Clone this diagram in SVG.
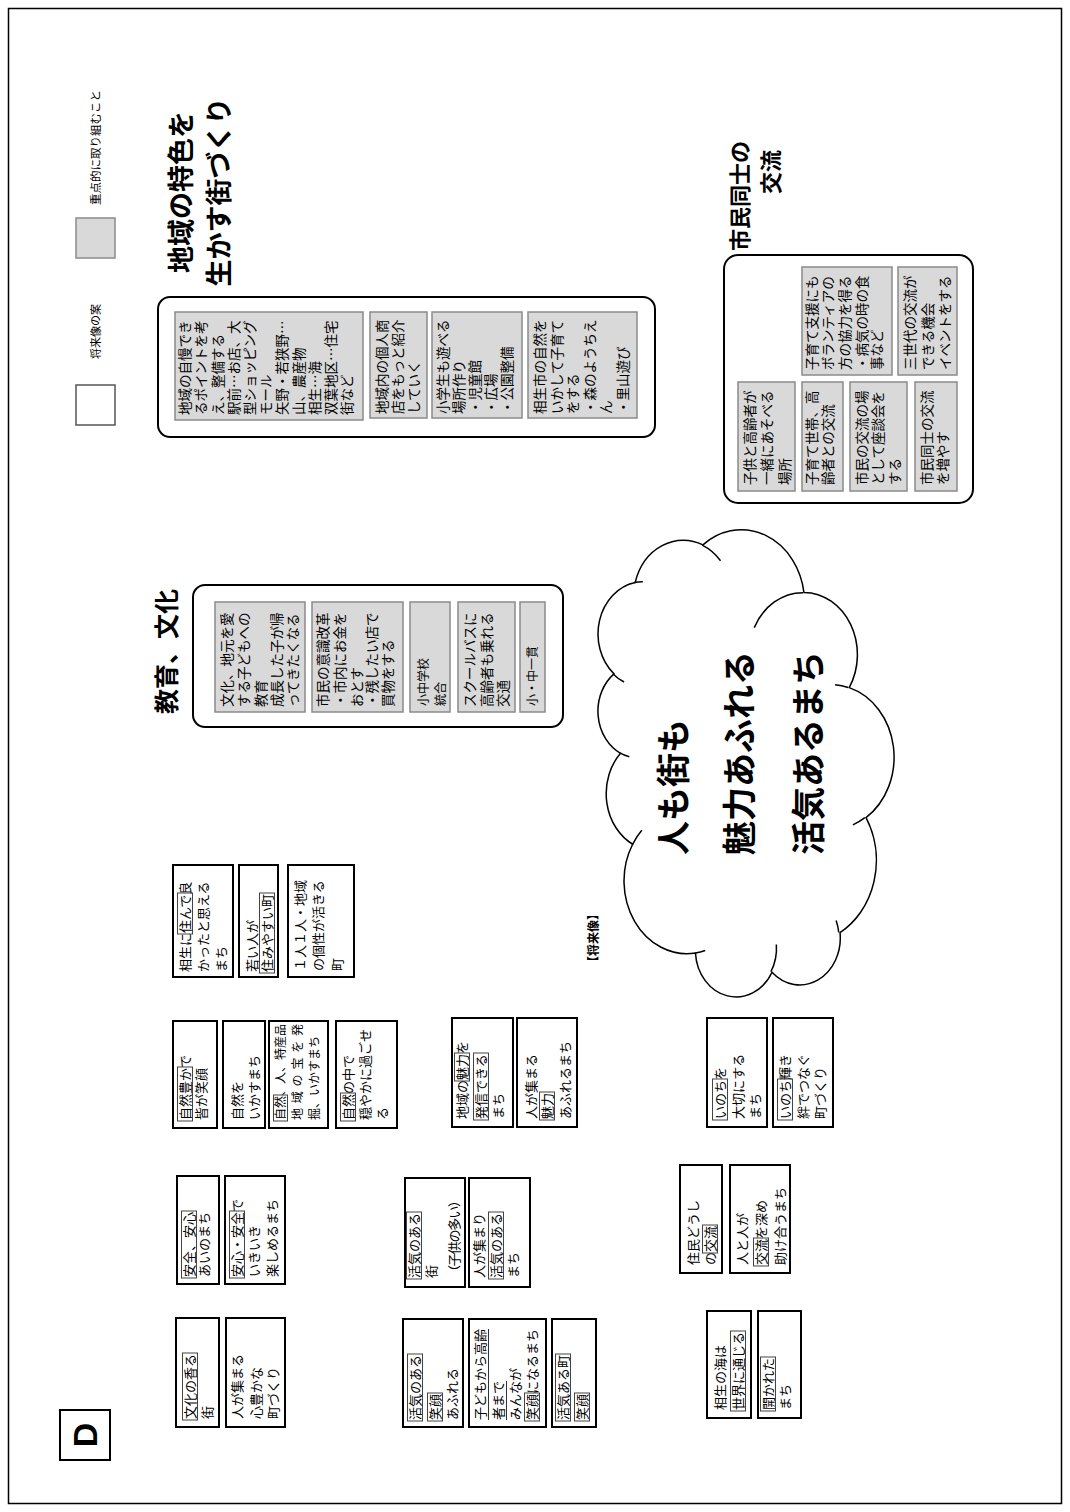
<svg xmlns="http://www.w3.org/2000/svg" width="1070" height="1512" viewBox="0 0 1070 1512">
<style>
.wb{fill:#fff;stroke:#000;stroke-width:2}
.gb{fill:#d9d9d9;stroke:#8a8a8a;stroke-width:1.5}
.grp{fill:#fff;stroke:#000;stroke-width:2}
.t{font-family:"Noto Sans CJK JP","Noto Sans CJK SC",sans-serif;font-size:13px;fill:#000}
.g{font-size:13.5px}
.s12{font-size:12px}
.fr{fill:none;stroke:#444;stroke-width:1}
.ul{stroke:#333;stroke-width:1}
.h{font-family:"Noto Sans CJK JP","Noto Sans CJK SC",sans-serif;font-weight:bold;fill:#000}
.cl{fill:none;stroke:#000;stroke-width:1.5}
</style>
<rect x="0" y="0" width="1070" height="1512" fill="#fff"/>
<rect x="8.5" y="8.5" width="1053" height="1495" fill="none" stroke="#000" stroke-width="1.5"/>
<g transform="translate(0,1512) rotate(-90)">
  <!-- D label -->
  <g id="label-d">
    <rect x="52" y="60" width="50" height="50" fill="#fff" stroke="#000" stroke-width="2"/>
    <text x="77" y="97" text-anchor="middle" style="font-family:'Liberation Sans',Arial,sans-serif;font-weight:bold;font-size:34px">D</text>
  </g>
  <!-- legend -->
  <g id="legend">
    <rect x="1254" y="76" width="40" height="39" class="gb"/>
    <text x="1307" y="100" class="t" style="font-size:11.5px">重点的に取り組むこと</text>
    <rect x="1087" y="76" width="40" height="39" fill="#fff" stroke="#555" stroke-width="1.5"/>
    <text x="1153" y="100" class="t" style="font-size:11px">将来像の案</text>
  </g>

  <!-- White proposal boxes -->
  <g id="box-a"><rect class="wb" x="535" y="173" width="112" height="60"/>
    <text class="t" x="540" y="190">相生に住んで良</text><text class="t" x="540" y="208">かったと思える</text><text class="t" x="540" y="226">まち</text>
    <rect class="fr" x="578" y="177.5" width="41" height="15"/></g>
  <g id="box-b"><rect class="wb" x="535" y="239" width="112" height="39"/>
    <text class="t" x="540" y="257">若い人が</text><text class="t" x="540" y="272">住みやすい町</text>
    <rect class="fr" x="539" y="259.5" width="80" height="15"/></g>
  <g id="box-c"><rect class="wb" x="535" y="288" width="112" height="66"/>
    <text class="t" x="541" y="305">１人１人・地域</text><text class="t" x="541" y="323">の個性が活きる</text><text class="t" x="541" y="342">町</text></g>

  <g id="box-d"><rect class="wb" x="384" y="173" width="107" height="44"/>
    <text class="t" x="392" y="190">自然豊かで</text><text class="t" x="392" y="206">皆が笑顔</text>
    <rect class="fr" x="391" y="177.5" width="54" height="15"/></g>
  <g id="box-e"><rect class="wb" x="384" y="223" width="107" height="42"/>
    <text class="t" x="392" y="242">自然を</text><text class="t" x="392" y="259">いかすまち</text></g>
  <g id="box-f"><rect class="wb" x="384" y="269" width="107" height="59"/>
    <text class="t s12" x="392" y="285">自然、人、特産品</text><text class="t s12" x="392" y="301.5" textLength="96" lengthAdjust="spacing">地域の宝を発</text><text class="t s12" x="392" y="319">掘、いかすまち</text>
    <rect class="fr" x="391" y="273.5" width="26" height="14"/></g>
  <g id="box-g"><rect class="wb" x="384" y="336" width="107" height="61"/>
    <text class="t" x="392" y="353">自然の中で</text><text class="t" x="392" y="370">穏やかに過ごせ</text><text class="t" x="392" y="387">る</text>
    <rect class="fr" x="391" y="340.5" width="28" height="15"/></g>

  <g id="box-h"><rect class="wb" x="228" y="177" width="108" height="42"/>
    <text class="t" x="235" y="194">安全、安心</text><text class="t" x="235" y="209">あいのまち</text>
    <rect class="fr" x="234" y="181.5" width="67" height="15"/></g>
  <g id="box-i"><rect class="wb" x="228" y="225" width="108" height="60"/>
    <text class="t" x="235" y="242">安心・安全で</text><text class="t" x="235" y="259">いきいき</text><text class="t" x="235" y="277">楽しめるまち</text>
    <rect class="fr" x="234" y="229.5" width="67" height="15"/></g>

  <g id="box-j"><rect class="wb" x="85" y="176" width="109" height="43"/>
    <text class="t" x="93" y="195">文化の香る</text><text class="t" x="93" y="212">街</text>
    <rect class="fr" x="92" y="182.5" width="67" height="15"/></g>
  <g id="box-k"><rect class="wb" x="85" y="226" width="109" height="59"/>
    <text class="t" x="93" y="242">人が集まる</text><text class="t" x="93" y="261">心豊かな</text><text class="t" x="93" y="278">町づくり</text></g>

  <g id="box-l"><rect class="wb" x="385" y="452" width="109" height="61"/>
    <text class="t" x="393" y="467">地域の魅力を</text><text class="t" x="393" y="486">発信できる</text><text class="t" x="393" y="503">まち</text>
    <rect class="fr" x="431" y="454.5" width="28" height="15"/><rect class="fr" x="392" y="473.5" width="67" height="15"/></g>
  <g id="box-m"><rect class="wb" x="385" y="517" width="109" height="60"/>
    <text class="t" x="393" y="536">人が集まる</text><text class="t" x="393" y="552">魅力</text><text class="t" x="393" y="570">あふれるまち</text>
    <rect class="fr" x="392" y="539.5" width="28" height="15"/></g>

  <g id="box-n"><rect class="wb" x="225" y="405" width="109" height="60"/>
    <text class="t" x="234" y="419">活気のある</text><text class="t" x="234" y="436">街</text><text class="t" x="234" y="459" textLength="84" lengthAdjust="spacing">（子供の多い）</text>
    <rect class="fr" x="233" y="406.5" width="67" height="15"/></g>
  <g id="box-o"><rect class="wb" x="225" y="469" width="109" height="61"/>
    <text class="t" x="234" y="484">人が集まり</text><text class="t" x="234" y="501">活気のある</text><text class="t" x="234" y="518">まち</text>
    <rect class="fr" x="233" y="488.5" width="67" height="15"/></g>

  <g id="box-p"><rect class="wb" x="85" y="403" width="108" height="60"/>
    <text class="t" x="92" y="420">活気のある</text><text class="t" x="92" y="440">笑顔</text><text class="t" x="92" y="457">あふれる</text>
    <rect class="fr" x="91" y="407.5" width="67" height="15"/><rect class="fr" x="91" y="427.5" width="28" height="15"/></g>
  <g id="box-q"><rect class="wb" x="85" y="469" width="108" height="77"/>
    <text class="t" x="92" y="485">子どもから高齢</text><text class="t" x="92" y="503">者まで</text><text class="t" x="92" y="520">みんなが</text><text class="t" x="92" y="537">笑顔になるまち</text>
    <line class="ul" x1="92" y1="488.5" x2="183" y2="488.5"/><line class="ul" x1="92" y1="506.5" x2="131" y2="506.5"/>
    <rect class="fr" x="91" y="524.5" width="28" height="15"/></g>
  <g id="box-r"><rect class="wb" x="85" y="552" width="108" height="44"/>
    <text class="t" x="92" y="568">活気ある町</text><text class="t" x="92" y="587">笑顔</text>
    <rect class="fr" x="91" y="555.5" width="67" height="15"/><rect class="fr" x="91" y="574.5" width="28" height="15"/></g>

  <g id="box-s"><rect class="wb" x="385" y="707" width="109" height="60"/>
    <text class="t" x="393" y="725">いのちを</text><text class="t" x="393" y="743">大切にする</text><text class="t" x="393" y="760">まち</text>
    <rect class="fr" x="392" y="712.5" width="41" height="15"/></g>
  <g id="box-t"><rect class="wb" x="385" y="773" width="109" height="60"/>
    <text class="t" x="393" y="790">いのち輝き</text><text class="t" x="393" y="808">絆でつなぐ</text><text class="t" x="393" y="825">町づくり</text>
    <rect class="fr" x="392" y="777.5" width="41" height="15"/></g>
  <g id="box-u"><rect class="wb" x="239" y="680" width="108" height="42"/>
    <text class="t" x="247" y="698">住民どうし</text><text class="t" x="247" y="715">の交流</text>
    <rect class="fr" x="259" y="702.5" width="28" height="15"/></g>
  <g id="box-v"><rect class="wb" x="239" y="730" width="108" height="60"/>
    <text class="t" x="247" y="747">人と人が</text><text class="t" x="247" y="766">交流を深め</text><text class="t" x="247" y="785">助け合うまち</text>
    <rect class="fr" x="246" y="753.5" width="28" height="15"/></g>
  <g id="box-w"><rect class="wb" x="94" y="707" width="107" height="44"/>
    <text class="t" x="102" y="725">相生の海は</text><text class="t" x="102" y="743">世界に通じる</text>
    <rect class="fr" x="101" y="730.5" width="80" height="15"/></g>
  <g id="box-x"><rect class="wb" x="94" y="758" width="107" height="43"/>
    <text class="t" x="102" y="773">開かれた</text><text class="t" x="102" y="790">まち</text>
    <rect class="fr" x="101" y="760.5" width="54" height="15"/></g>

  <!-- Future vision cloud -->
  <g id="cloud">
    <path d="M 558.98 695.46 A 72.69 62.97 0 0 1 667.75 632.64 A 57.40 49.79 0 0 1 758.72 620.50 A 46.98 40.73 0 0 1 838.14 613.98 A 52.28 45.19 0 0 1 929.47 635.20 A 57.40 49.83 0 0 1 967.15 702.92 A 72.93 63.17 0 0 1 919.62 803.93 A 62.27 53.90 0 0 1 824.38 849.22 A 72.68 63.14 0 0 1 694.40 866.03 A 83.10 72.24 0 0 1 579.47 840.02 A 46.93 40.55 0 0 1 539.75 772.02 A 46.77 40.73 0 0 1 558.98 695.46 Z" fill="#fff" stroke="#000" stroke-width="1.5"/>
    <path class="cl" d="M 567.52 776.36 A 46.77 40.73 0 0 1 540.24 770.90"/>
    <path class="cl" d="M 591.57 836.12 A 46.93 40.55 0 0 1 579.64 838.74"/>
    <path class="cl" d="M 694.37 864.84 A 72.68 63.14 0 0 1 687.17 852.91"/>
    <path class="cl" d="M 827.29 835.11 A 72.68 63.14 0 0 1 824.42 848.19"/>
    <path class="cl" d="M 884.37 754.28 A 62.27 53.90 0 0 1 919.37 803.17"/>
    <path class="cl" d="M 966.91 702.20 A 57.40 49.83 0 0 1 951.31 720.55"/>
    <path class="cl" d="M 929.52 634.18 A 52.28 45.19 0 0 1 930.34 642.84"/>
    <path class="cl" d="M 830.00 624.08 A 52.28 45.19 0 0 1 837.99 613.03"/>
    <path class="cl" d="M 755.33 629.34 A 46.98 40.73 0 0 1 759.19 619.83"/>
    <path class="cl" d="M 667.70 632.58 A 72.69 62.97 0 0 1 681.70 641.82"/>
    <path class="cl" d="M 561.42 705.18 A 72.69 62.97 0 0 1 558.98 695.46"/>
    <text class="h" x="657" y="686" style="font-size:34px">人も街も</text>
    <text class="h" x="657" y="752" style="font-size:34px">魅力あふれる</text>
    <text class="h" x="657" y="821" style="font-size:34px">活気あるまち</text>
  </g>
  <g id="label-future"><text class="h" x="544" y="598" style="font-size:12px">【将来像】</text></g>

  <!-- Group: 教育、文化 -->
  <g id="grp-edu">
    <text class="h" x="798" y="176" style="font-size:25px">教育、文化</text>
    <rect class="grp" x="785" y="193" width="142" height="370" rx="12"/>
    <rect class="gb" x="800" y="215" width="110" height="90"/>
    <text class="t g" x="805" y="232">文化、地元を愛</text><text class="t g" x="805" y="249">する子どもへの</text><text class="t g" x="805" y="266">教育</text><text class="t g" x="805" y="282">成長した子が帰</text><text class="t g" x="805" y="298">ってきたくなる</text>
    <rect class="gb" x="800" y="312" width="110" height="91"/>
    <text class="t g" x="805" y="328">市民の意識改革</text><text class="t g" x="805" y="345">・市内にお金を</text><text class="t g" x="805" y="362">おとす</text><text class="t g" x="805" y="377">・残したい店で</text><text class="t g" x="805" y="393">買物をする</text>
    <rect class="gb" x="800" y="410" width="110" height="40"/>
    <text class="t s12" x="806" y="428">小中学校</text><text class="t s12" x="806" y="445">統合</text>
    <rect class="gb" x="800" y="458" width="110" height="57"/>
    <text class="t g" x="805" y="475">スクールバスに</text><text class="t g" x="805" y="492">高齢者も乗れる</text><text class="t g" x="805" y="508">交通</text>
    <rect class="gb" x="800" y="520" width="110" height="25"/>
    <text class="t s12" x="806" y="537">小・中一貫</text>
  </g>

  <!-- Group: 地域の特色を生かす街づくり -->
  <g id="grp-local">
    <text class="h" x="1320" y="191" text-anchor="middle" style="font-size:27px">地域の特色を</text>
    <text class="h" x="1320" y="229" text-anchor="middle" style="font-size:27px">生かす街づくり</text>
    <rect class="grp" x="1075" y="158" width="140" height="497" rx="12"/>
    <rect class="gb" x="1092" y="175" width="108" height="188"/>
    <text class="t g" x="1097" y="190">地域の自慢でき</text><text class="t g" x="1097" y="206">るポイントを考</text><text class="t g" x="1097" y="222.5">え、整備する</text><text class="t g" x="1097" y="238.5" textLength="94.5" lengthAdjust="spacing">駅前…お店、大</text><text class="t g" x="1097" y="255">型ショッピング</text><text class="t g" x="1097" y="271">モール</text><text class="t g" x="1097" y="287">矢野・若狭野…</text><text class="t g" x="1097" y="303.5">山、農産物</text><text class="t g" x="1097" y="319.5">相生…海</text><text class="t g" x="1097" y="336">双葉地区…住宅</text><text class="t g" x="1097" y="352">街など</text>
    <rect class="gb" x="1094" y="370" width="106" height="57"/>
    <text class="t g" x="1098" y="387">地域内の個人商</text><text class="t g" x="1098" y="403">店をもっと紹介</text><text class="t g" x="1098" y="419">していく</text>
    <rect class="gb" x="1094" y="432" width="106" height="90"/>
    <text class="t g" x="1098" y="448">小学生も遊べる</text><text class="t g" x="1098" y="464">場所作り</text><text class="t g" x="1098" y="480">・児童館</text><text class="t g" x="1098" y="496">・広場</text><text class="t g" x="1098" y="512">・公園整備</text>
    <rect class="gb" x="1094" y="528" width="106" height="109"/>
    <text class="t g" x="1098" y="545">相生市の自然を</text><text class="t g" x="1098" y="561.5">いかして子育て</text><text class="t g" x="1098" y="578">をする</text><text class="t g" x="1098" y="594.5">・森のようちえ</text><text class="t g" x="1098" y="611">ん</text><text class="t g" x="1098" y="627.5">・里山遊び</text>
  </g>

  <!-- Group: 市民同士の交流 -->
  <g id="grp-exchange">
    <text class="h" x="1316" y="748" text-anchor="middle" style="font-size:22px">市民同士の</text>
    <text class="h" x="1362" y="779" text-anchor="end" style="font-size:22px">交流</text>
    <rect class="grp" x="1009" y="724" width="248" height="249" rx="14"/>
    <rect class="gb" x="1137" y="802" width="108" height="90"/>
    <text class="t g" x="1142" y="817">子育て支援にも</text><text class="t g" x="1142" y="833">ボランティアの</text><text class="t g" x="1142" y="850">方の協力を得る</text><text class="t g" x="1142" y="867">・病気の時の食</text><text class="t g" x="1142" y="882">事など</text>
    <rect class="gb" x="1137" y="898" width="108" height="59"/>
    <text class="t g" x="1142" y="915">三世代の交流が</text><text class="t g" x="1142" y="933">できる機会</text><text class="t g" x="1142" y="950">イベントをする</text>
    <rect class="gb" x="1021" y="738" width="109" height="57"/>
    <text class="t g" x="1027" y="755">子供と高齢者が</text><text class="t g" x="1027" y="772">一緒にあそべる</text><text class="t g" x="1027" y="790">場所</text>
    <rect class="gb" x="1021" y="802" width="109" height="41"/>
    <text class="t g" x="1027" y="817">子育て世帯、高</text><text class="t g" x="1027" y="833">齢者との交流</text>
    <rect class="gb" x="1021" y="850" width="109" height="57"/>
    <text class="t g" x="1027" y="867">市民の交流の場</text><text class="t g" x="1027" y="883">として座談会を</text><text class="t g" x="1027" y="900">する</text>
    <rect class="gb" x="1021" y="915" width="109" height="42"/>
    <text class="t g" x="1027" y="932">市民同士の交流</text><text class="t g" x="1027" y="948">を増やす</text>
  </g>
</g>
</svg>
